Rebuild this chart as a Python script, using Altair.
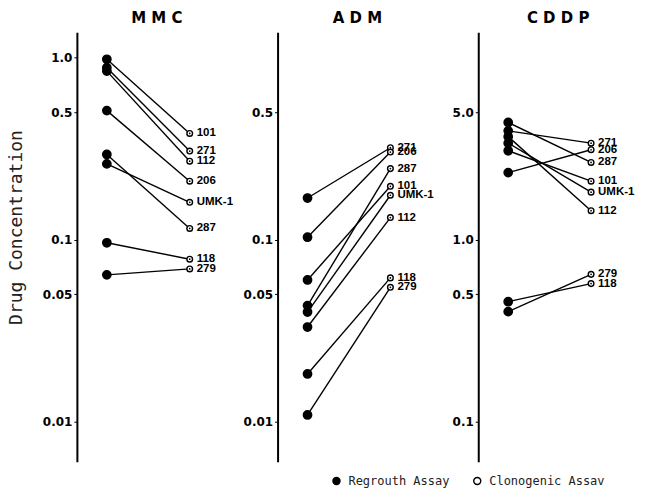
import altair as alt
import pandas as pd

cell_lines = ["101", "271", "112", "206", "UMK-1", "287", "118", "279"]
assays = ["Regrouth Assay", "Clonogenic Assav"]

mmc_regrowth = [0.975, 0.877, 0.84, 0.51, 0.26, 0.293, 0.096, 0.064]
mmc_clonogenic = [0.382, 0.306, 0.269, 0.209, 0.160, 0.115, 0.078, 0.069]
adm_regrowth = [0.060, 0.169, 0.0331, 0.103, 0.040, 0.0434, 0.0183, 0.0109]
adm_clonogenic = [0.196, 0.319, 0.132, 0.302, 0.175, 0.245, 0.0616, 0.0547]
cddp_regrowth = [3.07, 3.95, 3.67, 2.33, 3.38, 4.39, 0.456, 0.402]
cddp_clonogenic = [2.09, 3.38, 1.44, 3.11, 1.82, 2.65, 0.573, 0.644]

mmc_ticks = [1.0, 0.5, 0.1, 0.05, 0.01]
adm_ticks = [0.5, 0.1, 0.05, 0.01]
cddp_ticks = [5.0, 1.0, 0.5, 0.1]

low_domain = [0.00604, 1.371]
high_domain = [0.0604, 13.71]


def make_df(reg, clo):
    rows = []
    for name, r, c in zip(cell_lines, reg, clo):
        rows.append({"line": name, "assay": assays[0], "value": r})
        rows.append({"line": name, "assay": assays[1], "value": c})
    return pd.DataFrame(rows)


legend = alt.Legend(
    title=None, orient="none", legendX=254, legendY=443, direction="horizontal",
    labelFont="DejaVu Sans Mono", labelFontSize=12, labelColor="#222",
    symbolType="circle", symbolSize=50, symbolStrokeColor="black",
    symbolStrokeWidth=1.4, columnPadding=20, labelOffset=6,
)


def panel(title, reg, clo, domain, ticks, show_ytitle):
    df = make_df(reg, clo)
    base = alt.Chart(df)
    x = alt.X("assay:N", scale=alt.Scale(type="point", domain=assays, range=[30, 113], padding=0),
              axis=None)
    axis = alt.Axis(
        values=ticks,
        labelExpr="datum.value >= 0.1 ? format(datum.value, '.1f') : format(datum.value, '.2f')",
        domainColor="black", domainWidth=2, tickColor="black", tickSize=3, tickWidth=1,
        labelFont="DejaVu Sans", labelFontWeight="bold", labelFontSize=12, labelColor="black",
        labelPadding=2, grid=False,
        titleFont="DejaVu Sans Mono", titleFontSize=18, titleFontWeight="normal", titleColor="#222",
        titleX=-60, titleY=195, titleAngle=270, titleAlign="center", titleBaseline="middle",
    )
    y = alt.Y("value:Q", scale=alt.Scale(type="log", domain=domain), axis=axis,
              title="Drug Concentration" if show_ytitle else None)
    lines = base.mark_line(color="black", strokeWidth=1.4).encode(x=x, y=y, detail="line:N")
    pts = base.mark_point(filled=True, stroke="black", strokeWidth=1.4, opacity=1).encode(
        x=x, y=y,
        fill=alt.Fill("assay:N", scale=alt.Scale(domain=assays, range=["black", "white"]), legend=legend),
        size=alt.condition(alt.datum.assay == assays[0], alt.value(70), alt.value(32)),
    )
    clo_base = base.transform_filter(alt.datum.assay == assays[1])
    dots = clo_base.mark_point(filled=True, color="black", size=3, opacity=1).encode(x=x, y=y)
    labels = clo_base.mark_text(
        align="left", baseline="middle", dx=7, font="Liberation Sans", fontWeight="bold",
        fontSize=11.5, color="black",
    ).encode(x=x, y=y, text="line:N")
    return alt.layer(lines, pts, dots, labels).properties(
        width=160, height=430,
        title=alt.Title(title, font="DejaVu Sans", fontSize=15, fontWeight="bold",
                        anchor="middle", offset=6, color="black"),
    )


p1 = panel("M M C", mmc_regrowth, mmc_clonogenic, low_domain, mmc_ticks, True)
p2 = panel("A D M", adm_regrowth, adm_clonogenic, low_domain, adm_ticks, False)
p3 = panel("C D D P", cddp_regrowth, cddp_clonogenic, high_domain, cddp_ticks, False)

chart = alt.hconcat(p1, p2, p3, spacing=41, bounds="flush").properties(
    padding={"left": 0, "top": 3, "right": 0, "bottom": 0}, background="white"
).configure_view(strokeWidth=0, stroke="transparent")

chart.save("out.html", embed_options={"renderer": "svg", "actions": False})
